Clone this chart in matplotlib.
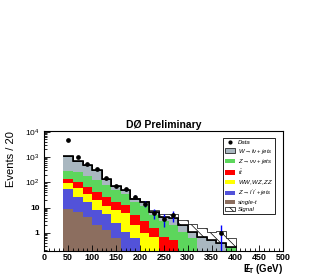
import matplotlib
matplotlib.use("Agg")
import matplotlib.pyplot as plt
import numpy as np
from matplotlib.patches import Patch
from matplotlib.lines import Line2D
from matplotlib.ticker import MultipleLocator, LogLocator, NullFormatter, FixedFormatter, FixedLocator

plt.rcParams['font.family'] = ['Liberation Sans', 'DejaVu Sans']
plt.rcParams['mathtext.fontset'] = 'custom'
plt.rcParams['mathtext.rm'] = 'Liberation Sans'
plt.rcParams['mathtext.it'] = 'Liberation Sans:italic'
plt.rcParams['mathtext.bf'] = 'Liberation Sans:bold'
plt.rcParams['hatch.linewidth'] = 0.5

# bins of missing ET, 20 GeV wide
edges = np.arange(40, 401, 20)

# background processes, bottom of stack first
single_t = [8.5, 6.6, 4.4, 2.1, 1.3, 0.6, 0.15, 0.1, 0.05, 0.03, 0.02, 0.01, 0.01, 0, 0, 0, 0, 0]
z_ll     = [46.5, 20.4, 11.6, 6.0, 4.2, 1.8, 0.95, 0.5, 0.1, 0.07, 0.03, 0.02, 0.01, 0.01, 0.01, 0, 0, 0]
diboson  = [40, 31, 18, 11.9, 6.5, 5.6, 4.9, 1.5, 0.85, 0.6, 0.1, 0.07, 0.03, 0.02, 0.01, 0.01, 0.01, 0]
ttbar    = [38, 42, 30, 23, 13, 9, 7, 3.0, 1.8, 0.8, 0.55, 0.4, 0.1, 0.07, 0.03, 0.02, 0.01, 0.01]
z_nunu   = [157, 150, 119, 81, 54, 33, 22, 10.9, 8.2, 3.6, 2.1, 1.6, 0.95, 0.5, 0.1, 0.09, 0.08, 0.24]
w_lnu    = [810, 470, 307, 186, 56, 22, 15, 6, 5, 1.8, 1.4, 1.9, 1.0, 0.46, 0.5, 0.38, 0.3, 0.02]
signal   = [0.5, 0.6, 0.8, 1.0, 1.0, 1.2, 1.3, 1.4, 1.5, 1.2, 1.4, 1.5, 1.2, 1.1, 0.85, 0.6, 0.8, 0.35]

data     = [4800, 1000, 530, 350, 145, 72, 53, 27, 14, 6, 3.5, 5, 0, 0, 0, 0, 1, 0]

layers = [single_t, z_ll, diboson, ttbar, z_nunu, w_lnu]
colors = ['#8c6e5f', '#5252d9', '#ffff00', '#ff0000', '#5cd65c', '#a9b7c0']
labels = ['single-t', r"$Z\rightarrow l'l' + jets$", r'$WW,WZ,ZZ$', r'$t\bar{t}$',
          r'$Z\rightarrow \nu\nu + jets$', r'$W\rightarrow l\nu + jets$']

fig = plt.figure(figsize=(3.22, 2.76), dpi=100)
ax = fig.add_axes([0.1376, 0.0906, 0.7424, 0.4348])

base = np.full(len(edges) - 1, 1e-3)
for vals, c in zip(layers, colors):
    top = base + np.array(vals)
    ax.stairs(top, edges, baseline=base, fill=True, color=c, lw=0)
    base = top
total = base
sig_top = total + np.array(signal)
ax.stairs(sig_top, edges, baseline=total, fill=True, facecolor='white',
          edgecolor='black', hatch='\\\\\\', lw=0.5)
ax.stairs(total, edges, baseline=None, color='black', lw=1.2)

d = np.array(data, dtype=float)
centers = 0.5 * (edges[:-1] + edges[1:])
m = d > 0
err = np.sqrt(d[m])
lo = np.minimum(err, d[m] - 1e-3)
ax.errorbar(centers[m], d[m], yerr=[lo, err], fmt='o', color='black', ms=2.4,
            ecolor='blue', elinewidth=1.0, capsize=0, zorder=5)

ax.set_yscale('log')
ax.set_xlim(0, 500)
ax.set_ylim(0.19, 1.07e4)
ax.xaxis.set_major_locator(MultipleLocator(50))
ax.xaxis.set_minor_locator(MultipleLocator(10))
ax.yaxis.set_major_locator(FixedLocator([1, 10, 100, 1000, 10000]))
ax.yaxis.set_major_formatter(FixedFormatter(['1', '10', r'$10^{2}$', r'$10^{3}$', r'$10^{4}$']))
ax.yaxis.set_minor_locator(LogLocator(base=10, subs=np.arange(2, 10)))
ax.yaxis.set_minor_formatter(NullFormatter())
ax.tick_params(which='both', direction='in', labelsize=6.5, width=0.6)
ax.tick_params(which='major', length=4)
ax.tick_params(which='minor', length=2)
ax.tick_params(axis='x', pad=1.5)
ax.tick_params(axis='y', labelsize=6)
for t in ax.get_xticklabels() + ax.get_yticklabels():
    t.set_fontweight('bold')
for s in ax.spines.values():
    s.set_linewidth(0.8)

ax.set_title('DØ Preliminary', fontsize=7.5, fontweight='bold', pad=2)
ax.set_ylabel('Events / 20', fontsize=8, loc='top')
ax.yaxis.set_label_coords(-0.12, 1.0)
ax.set_xlabel(r'$\mathbf{E\!\!\!/}_{\mathbf{T}}$ (GeV)', fontsize=7, fontweight='bold', loc='right')
ax.xaxis.set_label_coords(1.0, -0.095)

handles = [Line2D([], [], marker='o', ls='none', color='black', ms=2)]
handles += [Patch(facecolor=colors[5], edgecolor='black', lw=0.5)]
handles += [Patch(facecolor=c) for c in colors[4::-1]]
handles += [Patch(facecolor='white', edgecolor='black', hatch='\\\\\\', lw=0.5)]
leg_labels = ['Data'] + labels[::-1] + ['Signal']
leg = ax.legend(handles, leg_labels, loc='upper right', bbox_to_anchor=(0.978, 0.967),
                prop={'style': 'italic', 'size': 4.3}, labelspacing=0.25,
                borderpad=0.3, handlelength=1.8, handleheight=0.8, handletextpad=0.4,
                fancybox=False, framealpha=1, edgecolor='black')
leg.get_frame().set_linewidth(0.6)

fig.savefig('out.png', dpi=100)
